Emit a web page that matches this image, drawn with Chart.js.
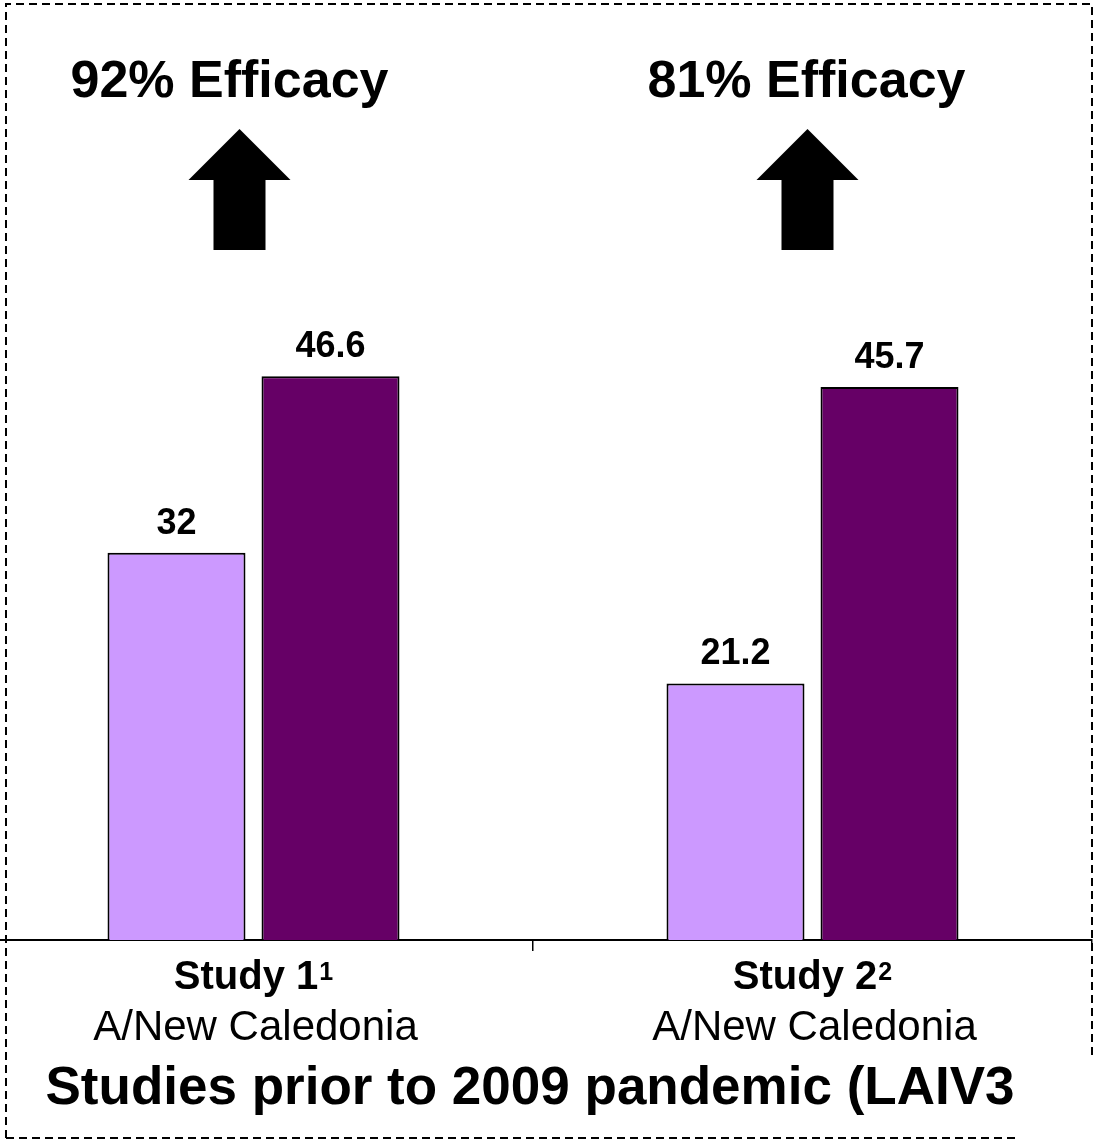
<!DOCTYPE html>
<html>
<head>
<meta charset="utf-8">
<script src="https://cdn.jsdelivr.net/npm/chart.js@4.4.0/dist/chart.umd.min.js"></script>
<style>
  html, body { margin: 0; padding: 0; background: #fff; overflow: hidden; }
  #wrap { position: relative; width: 1098px; height: 1141px; overflow: hidden; }
  #laivChart { position: absolute; left: -26px; top: 0; }
</style>
</head>
<body>
<div id="wrap">
  <canvas id="laivChart" width="1124" height="1141"></canvas>
</div>
<script>
// ---- data ----
const categories = ['Study 1', 'Study 2'];
const footnotes = ['1', '2'];
const strains = ['A/New Caledonia', 'A/New Caledonia'];
const seriesNames = ['LAIV3', 'Placebo'];
const laivValues = [32, 21.2];
const placeboValues = [46.6, 45.7];
const efficacyLabels = ['92% Efficacy', '81% Efficacy'];
const axisTitle = 'Studies prior to 2009 pandemic (LAIV3';

const FONT = '"Liberation Sans", Arial, sans-serif';
const SHIFT = 26; // canvas sits 26px left of the page

// text, arrows and dashed frame drawn on top of the bars
const overlay = {
    id: 'overlay',
    afterDatasetsDraw(chart) {
        const ctx = chart.ctx;
        ctx.save();
        ctx.fillStyle = '#000';
        ctx.textAlign = 'center';
        ctx.textBaseline = 'alphabetic';
        ctx.font = 'bold 36px ' + FONT;
        chart.data.datasets.forEach((ds, i) => {
            chart.getDatasetMeta(i).data.forEach((bar, j) => {
                ctx.fillText(String(ds.data[j]), bar.x, bar.y - 19);
            });
        });
        ctx.restore();
    },
    afterDraw(chart) {
        const ctx = chart.ctx;
        const xs = chart.scales.x;
        const area = chart.chartArea;
        const arrowShift = [-14, -5];
        const textShift = [-24, -6];

        ctx.save();
        ctx.fillStyle = '#000';

        categories.forEach((cat, i) => {
            const cx = xs.getPixelForValue(i);

            // efficacy headline
            ctx.textAlign = 'center';
            ctx.font = 'bold 52px ' + FONT;
            ctx.fillText(efficacyLabels[i], cx + textShift[i], 97);

            // block arrow
            const ax = cx + arrowShift[i];
            ctx.beginPath();
            ctx.moveTo(ax, 129);
            ctx.lineTo(ax + 51, 180);
            ctx.lineTo(ax + 26, 180);
            ctx.lineTo(ax + 26, 250);
            ctx.lineTo(ax - 26, 250);
            ctx.lineTo(ax - 26, 180);
            ctx.lineTo(ax - 51, 180);
            ctx.closePath();
            ctx.fill();

            // category label with superscript
            ctx.font = 'bold 40px ' + FONT;
            const w1 = ctx.measureText(cat).width;
            ctx.font = 'bold 25px ' + FONT;
            const w2 = ctx.measureText(footnotes[i]).width + 1;
            const left = cx - (w1 + w2) / 2;
            ctx.textAlign = 'left';
            ctx.font = 'bold 40px ' + FONT;
            ctx.fillText(cat, left, 989);
            ctx.font = 'bold 25px ' + FONT;
            ctx.fillText(footnotes[i], left + w1 + 1, 980);

            ctx.textAlign = 'center';
            ctx.font = '42px ' + FONT;
            ctx.fillText(strains[i], cx + 2, 1040);
        });

        // axis title
        ctx.textAlign = 'center';
        ctx.font = 'bold 53px ' + FONT;
        ctx.fillText(axisTitle, (area.left + area.right) / 2 - 3, 1104);

        // dashed frame
        ctx.strokeStyle = '#000';
        ctx.lineWidth = 2;
        ctx.setLineDash([8, 5]);
        ctx.beginPath();
        ctx.moveTo(6 + SHIFT, 1138);
        ctx.lineTo(6 + SHIFT, 4);
        ctx.lineTo(1092 + SHIFT, 4);
        ctx.lineTo(1092 + SHIFT, 1055);
        ctx.moveTo(6 + SHIFT, 1138);
        ctx.lineTo(1016 + SHIFT, 1138);
        ctx.stroke();
        ctx.restore();
    }
};

var laivChart = new Chart(document.getElementById('laivChart'), {
    type: 'bar',
    data: {
        labels: categories,
        datasets: [
            {
                label: seriesNames[0],
                data: laivValues,
                backgroundColor: '#CC99FF',
                borderColor: '#000',
                borderWidth: 2,
                categoryPercentage: 0.551,
                barPercentage: 0.896
            },
            {
                label: seriesNames[1],
                data: placeboValues,
                backgroundColor: '#660066',
                borderColor: '#000',
                borderWidth: 2,
                categoryPercentage: 0.551,
                barPercentage: 0.896
            }
        ]
    },
    options: {
        responsive: false,
        animation: false,
        devicePixelRatio: 1,
        layout: { padding: { top: 93, bottom: 190, left: 0, right: 6 } },
        plugins: {
            legend: { display: false },
            tooltip: { enabled: false }
        },
        scales: {
            x: {
                offset: true,
                grid: {
                    offset: true,
                    drawOnChartArea: false,
                    drawTicks: true,
                    tickLength: 11,
                    color: '#000',
                    lineWidth: 1.5
                },
                border: { display: true, color: '#000', width: 2 },
                ticks: { display: false }
            },
            y: {
                display: false,
                min: 0,
                max: 70
            }
        }
    },
    plugins: [overlay]
});
</script>
</body>
</html>
